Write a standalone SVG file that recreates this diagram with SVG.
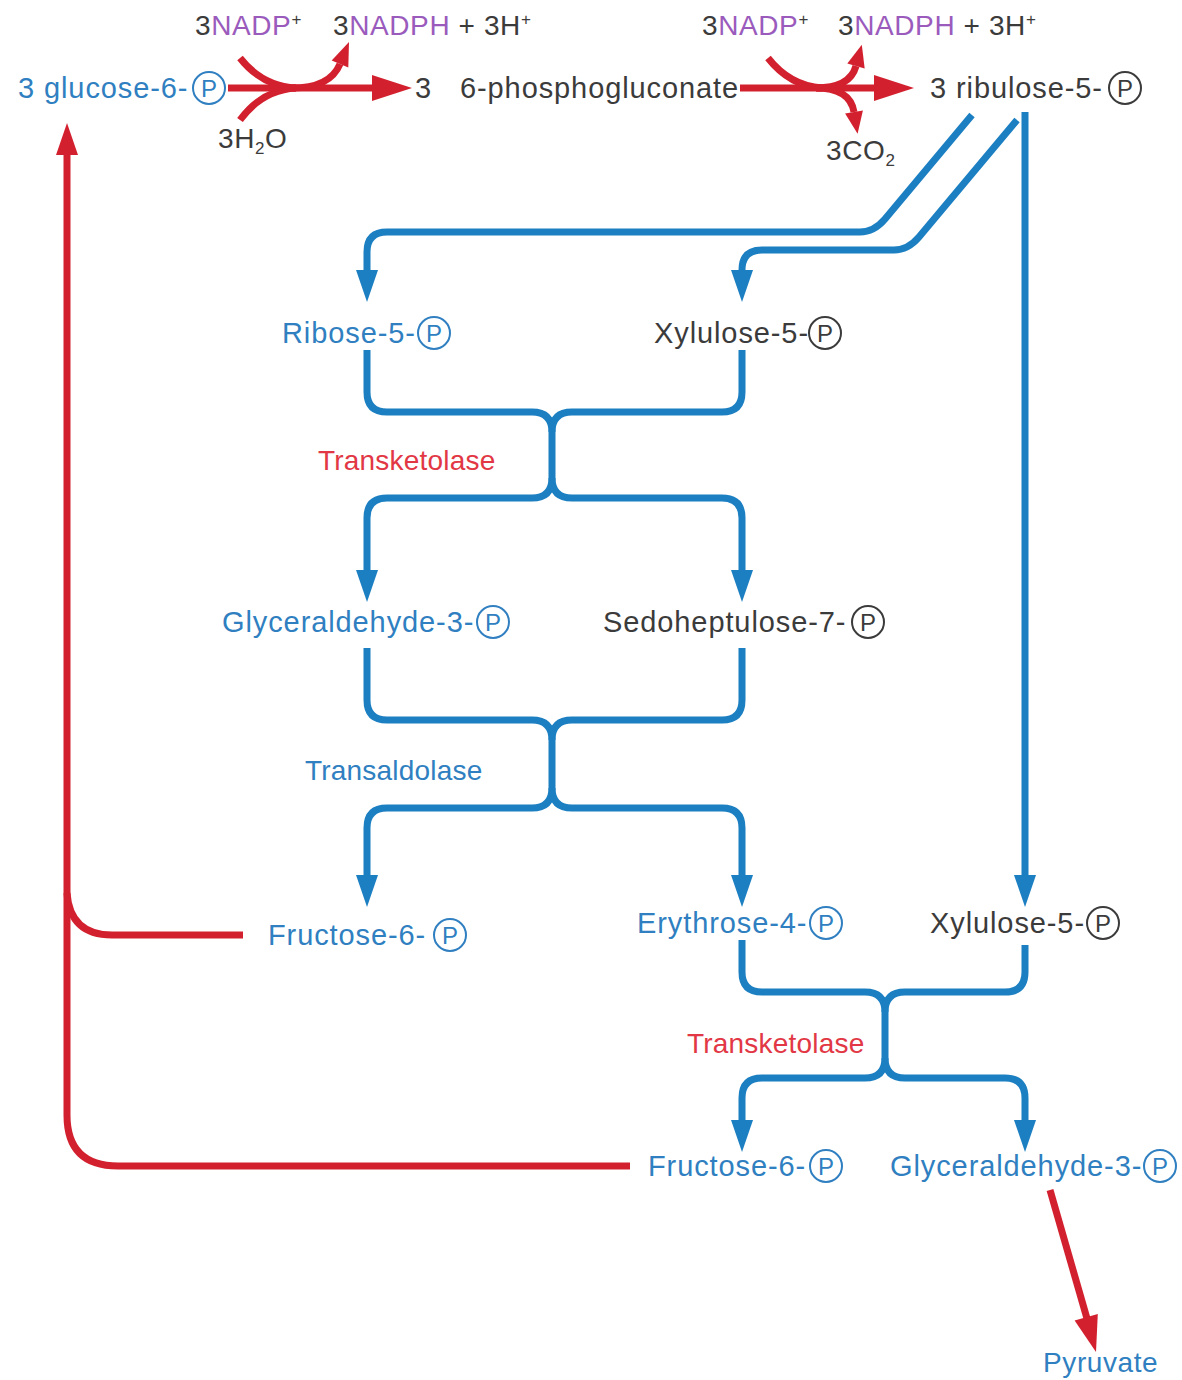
<svg xmlns="http://www.w3.org/2000/svg" width="1182" height="1380" viewBox="0 0 1182 1380">
<defs>
<style>
text{font-family:"Liberation Sans",Arial,sans-serif;font-size:29px;letter-spacing:0.9px}
.sm{font-size:28px;letter-spacing:0.6px}
.en{font-size:28px;letter-spacing:0.2px}
.b{fill:#2f7fc1}
.k{fill:#3b3b3b}
.p{fill:#9a5bbd}
.r{fill:#e23744}
.cb{fill:none;stroke:#2f7fc1;stroke-width:2}
.ck{fill:none;stroke:#3b3b3b;stroke-width:2}
.pl{font-size:24px;letter-spacing:0px}
.sup{font-size:17px}
.sub{font-size:17px}
.bl{fill:none;stroke:#1b7fc2;stroke-width:7;stroke-linejoin:round}
.rl{fill:none;stroke:#d3202f;stroke-width:7;stroke-linejoin:round}
.rh{fill:#d3202f}
</style>
<marker id="ab" viewBox="0 -12 32 24" refX="10" refY="0" markerWidth="32" markerHeight="24" markerUnits="userSpaceOnUse" orient="auto"><path d="M0,-11 L32,0 L0,11 z" fill="#1b7fc2"/></marker>
<marker id="ar" viewBox="0 -12 32 24" refX="10" refY="0" markerWidth="32" markerHeight="24" markerUnits="userSpaceOnUse" orient="auto"><path d="M0,-11 L32,0 L0,11 z" fill="#d3202f"/></marker>
</defs>
<rect width="1182" height="1380" fill="#ffffff"/>

<g id="connectors">
  <!-- reaction 1 -->
  <path class="rl" d="M228,88 H382"/>
  <polygon class="rh" points="372,75 412,88 372,101"/>
  <path class="rl" d="M240,58 Q262,86 296,88"/>
  <path class="rl" d="M240,120 Q262,90 296,88"/>
  <path class="rl" d="M292,88 Q330,88 340,64"/>
  <polygon class="rh" points="331.7,60.5 349,42 348.3,67.5"/>
  <!-- reaction 2 -->
  <path class="rl" d="M740,88 H884"/>
  <polygon class="rh" points="874,75 914,88 874,101"/>
  <path class="rl" d="M768,58 Q790,86 822,88"/>
  <path class="rl" d="M816,88 Q850,88 856,66"/>
  <polygon class="rh" points="847.3,63.6 861.8,44.8 864.7,68.4"/>
  <path class="rl" d="M816,88 Q850,88 854,112"/>
  <polygon class="rh" points="845.1,113.5 857.6,133.7 862.9,110.5"/>
  <!-- ribulose branches -->
  <path class="bl" d="M972,115 L885,219 Q874,232 860,232 H387 Q367,232 367,252 V280" marker-end="url(#ab)"/>
  <path class="bl" d="M1017,120 L919,237 Q908,250 894,250 H762 Q742,250 742,270 V280" marker-end="url(#ab)"/>
  <path class="bl" d="M1025,112 V885" marker-end="url(#ab)"/>
  <!-- merge 1 transketolase -->
  <path class="bl" d="M367,350 V392 Q367,412 387,412 H532 Q552,412 552,432 V478 Q552,498 532,498 H387 Q367,498 367,518 V580" marker-end="url(#ab)"/>
  <path class="bl" d="M742,350 V392 Q742,412 722,412 H572 Q552,412 552,432"/>
  <path class="bl" d="M552,478 Q552,498 572,498 H722 Q742,498 742,518 V580" marker-end="url(#ab)"/>
  <!-- merge 2 transaldolase -->
  <path class="bl" d="M367,648 V700 Q367,720 387,720 H532 Q552,720 552,740 V788 Q552,808 532,808 H387 Q367,808 367,828 V885" marker-end="url(#ab)"/>
  <path class="bl" d="M742,648 V700 Q742,720 722,720 H572 Q552,720 552,740"/>
  <path class="bl" d="M552,788 Q552,808 572,808 H722 Q742,808 742,828 V885" marker-end="url(#ab)"/>
  <!-- merge 3 transketolase -->
  <path class="bl" d="M742,940 V972 Q742,992 762,992 H865 Q885,992 885,1012 V1058 Q885,1078 865,1078 H762 Q742,1078 742,1098 V1130" marker-end="url(#ab)"/>
  <path class="bl" d="M1025,945 V972 Q1025,992 1005,992 H905 Q885,992 885,1012"/>
  <path class="bl" d="M885,1058 Q885,1078 905,1078 H1005 Q1025,1078 1025,1098 V1130" marker-end="url(#ab)"/>
  <!-- recycling red -->
  <path class="rl" d="M630,1166 H118 Q67,1166 67,1115 V145" marker-end="url(#ar)"/>
  <path class="rl" d="M243,935 H112 Q70,935 67,893"/>
  <!-- pyruvate -->
  <path class="rl" d="M1050,1190 L1088,1322"/>
  <polygon class="rh" points="1074.6,1320.6 1096,1352 1097.8,1314"/>
</g>

<g id="n-g6p">
  <text x="18" y="98" class="b">3 glucose-6-</text>
  <circle cx="209" cy="88" r="16" class="cb"/><text x="209" y="97" class="b pl" text-anchor="middle">P</text>
</g>
<g id="n-6pg">
  <text x="415" y="98" class="k">3</text>
  <text x="460" y="98" class="k">6-phosphogluconate</text>
</g>
<g id="n-ru5p">
  <text x="930" y="98" class="k">3 ribulose-5-</text>
  <circle cx="1125" cy="88" r="16" class="ck"/><text x="1125" y="97" class="k pl" text-anchor="middle">P</text>
</g>
<g id="cof-1">
  <text x="195" y="35" class="k sm">3<tspan class="p">NADP</tspan><tspan class="sup" dy="-10">+</tspan></text>
  <text x="333" y="35" class="k sm">3<tspan class="p">NADPH</tspan> + 3H<tspan class="sup" dy="-10">+</tspan></text>
  <text x="218" y="148" class="k sm">3H<tspan class="sub" dy="6">2</tspan><tspan dy="-6">O</tspan></text>
</g>
<g id="cof-2">
  <text x="702" y="35" class="k sm">3<tspan class="p">NADP</tspan><tspan class="sup" dy="-10">+</tspan></text>
  <text x="838" y="35" class="k sm">3<tspan class="p">NADPH</tspan>  + 3H<tspan class="sup" dy="-10">+</tspan></text>
  <text x="826" y="160" class="k sm">3CO<tspan class="sub" dy="6">2</tspan></text>
</g>
<g id="n-r5p">
  <text x="282" y="343" class="b">Ribose-5-</text>
  <circle cx="434" cy="333" r="16" class="cb"/><text x="434" y="342" class="b pl" text-anchor="middle">P</text>
</g>
<g id="n-xu5p-1">
  <text x="654" y="343" class="k">Xylulose-5-</text>
  <circle cx="825" cy="333" r="16" class="ck"/><text x="825" y="342" class="k pl" text-anchor="middle">P</text>
</g>
<g id="e-transketolase-1">
  <text x="318" y="470" class="r en">Transketolase</text>
</g>
<g id="n-gap-1">
  <text x="222" y="632" class="b">Glyceraldehyde-3-</text>
  <circle cx="493" cy="622" r="16" class="cb"/><text x="493" y="631" class="b pl" text-anchor="middle">P</text>
</g>
<g id="n-s7p">
  <text x="603" y="632" class="k">Sedoheptulose-7-</text>
  <circle cx="868" cy="622" r="16" class="ck"/><text x="868" y="631" class="k pl" text-anchor="middle">P</text>
</g>
<g id="e-transaldolase">
  <text x="305" y="780" class="b en">Transaldolase</text>
</g>
<g id="n-f6p-1">
  <text x="268" y="945" class="b">Fructose-6-</text>
  <circle cx="450" cy="935" r="16" class="cb"/><text x="450" y="944" class="b pl" text-anchor="middle">P</text>
</g>
<g id="n-e4p">
  <text x="637" y="933" class="b">Erythrose-4-</text>
  <circle cx="826" cy="923" r="16" class="cb"/><text x="826" y="932" class="b pl" text-anchor="middle">P</text>
</g>
<g id="n-xu5p-2">
  <text x="930" y="933" class="k">Xylulose-5-</text>
  <circle cx="1103" cy="923" r="16" class="ck"/><text x="1103" y="932" class="k pl" text-anchor="middle">P</text>
</g>
<g id="e-transketolase-2">
  <text x="687" y="1053" class="r en">Transketolase</text>
</g>
<g id="n-f6p-2">
  <text x="648" y="1176" class="b">Fructose-6-</text>
  <circle cx="826" cy="1166" r="16" class="cb"/><text x="826" y="1175" class="b pl" text-anchor="middle">P</text>
</g>
<g id="n-gap-2">
  <text x="890" y="1176" class="b">Glyceraldehyde-3-</text>
  <circle cx="1160" cy="1166" r="16" class="cb"/><text x="1160" y="1175" class="b pl" text-anchor="middle">P</text>
</g>
<g id="n-pyruvate">
  <text x="1043" y="1372" class="b sm">Pyruvate</text>
</g>
</svg>
